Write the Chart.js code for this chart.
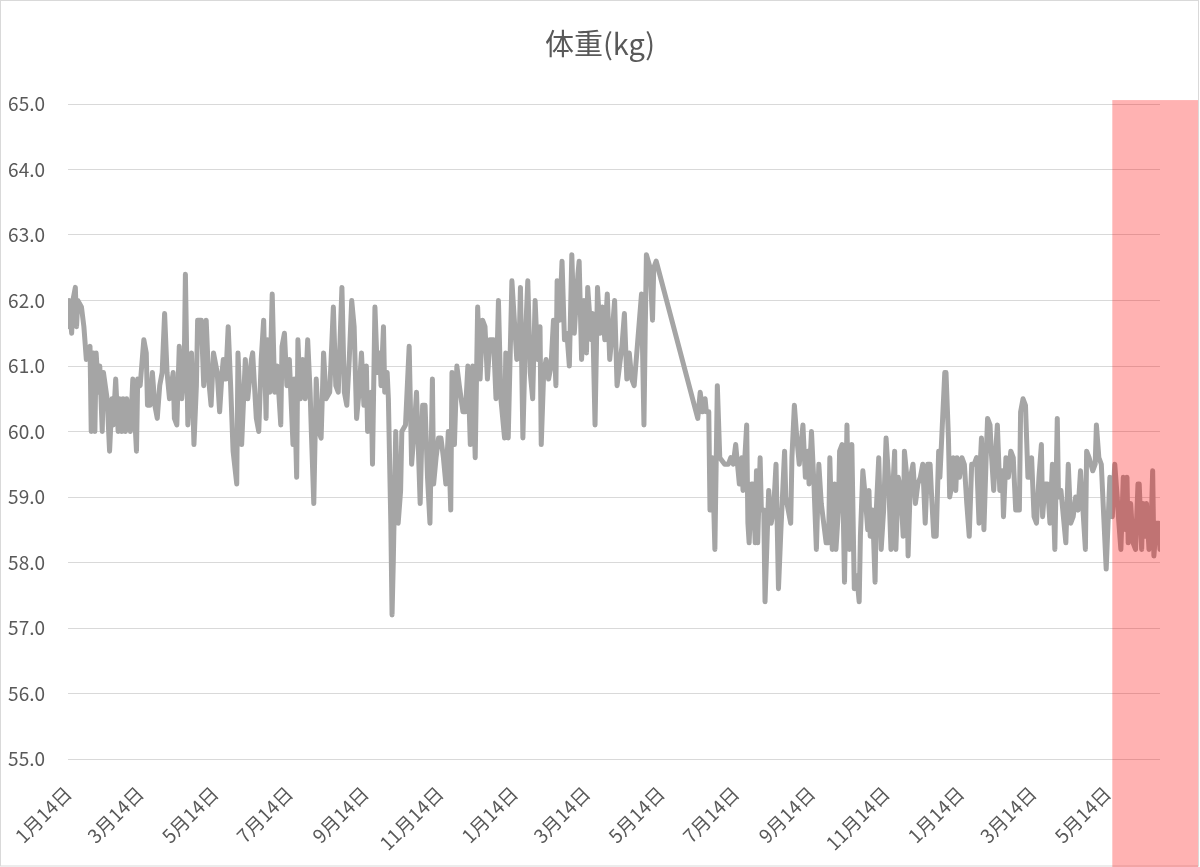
<!DOCTYPE html>
<html lang="ja">
<head>
<meta charset="utf-8">
<title>体重(kg)</title>
<script src="https://cdn.jsdelivr.net/npm/chart.js@4.4.1/dist/chart.umd.min.js"></script>
<style>
  html, body { margin: 0; padding: 0; background: #fff; }
  #wrap { position: relative; width: 1200px; height: 867px; }
</style>
</head>
<body>
<div id="wrap"><canvas id="weight"></canvas></div>
<script>
// days since the first measurement (1月14日)
var DAY_OFFSETS = [
  0, 1, 3, 4, 6, 7, 8, 11, 13, 15, 18, 19, 21, 22, 23, 25, 26, 28, 29, 32,
  34, 36, 37, 39, 41, 42, 44, 45, 47, 48, 51, 53, 56, 57, 59, 62, 64, 65, 67, 69,
  71, 73, 75, 77, 79, 81, 83, 86, 87, 89, 91, 93, 95, 96, 98, 101, 103, 105, 106, 109,
  111, 113, 115, 117, 119, 122, 124, 126, 127, 129, 131, 133, 135, 138, 139,
  142, 145, 147, 150, 151, 154, 156, 158, 160, 162, 163, 165, 167, 169, 171, 174, 175, 177, 179, 181,
  184, 185, 187, 188, 190, 192, 194, 196, 198, 199, 201, 203, 205, 207, 209, 211, 214, 217, 219, 221,
  224, 226, 228, 230, 232, 234, 236, 238, 240, 242, 244, 245, 248, 249, 251, 253, 255, 256, 258, 259,
  261, 262, 264, 265, 266, 268, 270, 272, 273, 276, 279, 281, 283, 285, 288, 290, 292, 294, 296, 298,
  299, 301, 303, 305, 307, 309, 311, 313, 314, 316, 318, 320, 323, 325, 327, 329, 331, 333, 335, 337,
  339, 341, 343, 345, 348, 350, 352, 354, 357, 358, 360, 363, 365, 367, 369, 370, 372, 374, 376, 378,
  380, 382, 384, 386, 387, 389, 391, 393, 395, 397, 399, 400, 402, 404, 406, 408, 410, 412, 414, 417,
  418, 420, 422, 424, 425, 428, 429, 431, 433, 435, 437, 439, 441, 443, 445, 447, 449, 451, 453, 455,
  457, 459, 461, 463, 466, 469, 471, 472, 473, 476, 478, 479, 481,
  515, 517, 519, 521, 522, 524, 525, 527, 529, 531, 533, 537, 540, 542, 544, 546, 548, 549, 551, 552,
  555, 556, 557, 559, 560, 562, 563, 564, 566, 567, 569, 570, 573, 575, 577, 579, 581, 583, 586, 587,
  591, 592, 594, 596, 598, 601, 603, 605, 606, 608, 610, 612, 614, 616, 618, 620, 622, 623, 625, 627,
  628, 630, 631, 633, 635, 637, 639, 641, 642, 643, 645, 647, 648, 650, 652, 654, 655, 656, 658, 660,
  661, 663, 665, 667, 669, 671, 673, 675, 676, 677, 679, 681, 683, 684, 686, 687, 689, 691, 693, 695,
  697, 699, 701, 703, 705, 706, 708, 710, 712, 713, 715, 717, 718, 720, 721, 723, 724, 726, 727, 729,
  731, 733, 735, 737, 739, 741, 743, 745, 746, 747, 749, 751, 752, 754, 755, 757, 759, 760, 762, 764,
  765, 767, 769, 771, 773, 775, 778, 779, 781, 783, 785, 787, 788, 790, 792, 794, 796, 797, 799, 801,
  803, 805, 807, 809, 810, 812, 814, 816, 818, 820, 822, 824, 826, 828, 830, 832, 833, 835, 838, 840,
  841, 843, 845, 847, 848, 849, 852, 854, 856, 858, 859, 861, 863, 865, 866, 867, 869, 871, 873, 875,
  876, 878, 879, 881, 882, 884, 886, 887, 888, 890, 892, 893
];

var WEIGHT_KG = [
  61.6, 62.0, 61.5, 62.0, 62.2, 61.6, 62.0, 61.9, 61.6, 61.1, 61.3, 60.0, 61.2, 60.0, 61.2, 60.6, 61.0, 60.0, 60.9, 60.5,
  59.7, 60.5, 60.1, 60.8, 60.0, 60.5, 60.0, 60.5, 60.0, 60.5, 60.0, 60.8, 59.7, 60.8, 60.7, 61.4, 61.2, 60.4, 60.4, 60.9,
  60.4, 60.2, 60.7, 60.9, 61.8, 60.9, 60.5, 60.9, 60.2, 60.1, 61.3, 60.5, 60.9, 62.4, 60.1, 61.2, 59.8, 60.7, 61.7, 61.7,
  60.7, 61.7, 60.8, 60.4, 61.2, 60.9, 60.3, 60.9, 61.1, 60.8, 61.6, 60.7, 59.7, 59.2, 61.2,
  59.8, 61.1, 60.5, 61.1, 61.2, 60.2, 60.0, 61.1, 61.7, 60.2, 61.4, 60.6, 62.1, 60.6, 61.0, 60.1, 61.3, 61.5, 60.7, 61.1,
  59.8, 60.8, 59.3, 61.4, 60.5, 61.1, 60.5, 61.4, 60.6, 60.0, 58.9, 60.8, 60.0, 59.9, 61.2, 60.5, 60.6, 61.9, 60.7, 60.6,
  62.2, 60.6, 60.4, 61.1, 62.0, 61.6, 60.2, 60.6, 61.2, 60.4, 61.0, 60.0, 60.6, 59.5, 61.9, 60.9, 61.2, 60.7, 61.6, 60.6,
  60.9, 60.5, 58.6, 57.2, 58.0, 60.0, 58.6, 59.1, 60.0, 60.1, 61.3, 59.5, 60.0, 60.6, 58.9, 60.4, 60.4, 59.3, 58.6, 60.8,
  59.2, 59.6, 59.9, 59.9, 59.6, 59.2, 60.0, 58.8, 60.9, 59.8, 61.0, 60.7, 60.3, 60.3, 61.0, 59.8, 61.0, 59.6, 61.9, 60.8,
  61.7, 61.6, 60.8, 61.4, 61.4, 60.5, 62.0, 60.5, 59.9, 61.2, 59.9, 62.3, 61.7, 61.1, 61.4, 62.2, 59.9, 61.4, 62.3, 60.9,
  60.5, 62.0, 61.1, 61.6, 59.8, 60.9, 61.1, 60.8, 61.0, 61.7, 60.7, 62.3, 61.7, 62.6, 61.4, 61.5, 61.0, 62.7, 61.5, 62.4,
  62.6, 61.1, 62.0, 61.2, 62.2, 61.4, 61.8, 60.1, 62.2, 61.5, 61.9, 61.4, 62.1, 61.1, 61.5, 62.0, 60.7, 61.0, 61.3, 61.8,
  60.8, 61.2, 60.8, 60.7, 61.4, 62.1, 60.1, 61.5, 62.7, 62.5, 61.7, 62.5, 62.6,
  60.2, 60.6, 60.3, 60.5, 60.3, 60.3, 58.8, 59.6, 58.2, 60.7, 59.6, 59.5, 59.5, 59.6, 59.5, 59.8, 59.4, 59.2, 59.6, 59.1,
  60.1, 58.6, 58.3, 59.2, 59.2, 58.3, 59.4, 58.3, 59.6, 58.8, 58.8, 57.4, 59.1, 58.6, 58.8, 59.5, 57.6, 58.5, 59.7, 59.0,
  58.6, 59.6, 60.4, 59.9, 59.5, 60.1, 59.3, 59.7, 59.2, 60.0, 59.2, 58.2, 59.5, 58.9, 58.6, 58.3, 58.3, 59.6, 58.2, 59.2,
  58.2, 58.8, 59.7, 59.8, 57.7, 60.1, 58.2, 59.8, 58.7, 57.6, 57.8, 57.4, 58.4, 59.4, 59.0, 58.5, 59.1, 58.4, 58.8, 57.7,
  58.8, 59.6, 58.2, 58.8, 59.9, 59.3, 58.2, 59.3, 59.7, 58.2, 59.3, 59.1, 58.4, 59.7, 59.3, 58.1, 59.3, 59.5, 58.9, 59.2,
  59.3, 59.5, 58.6, 59.5, 59.5, 59.1, 58.4, 58.4, 59.7, 59.3, 60.1, 60.9, 60.9, 59.9, 59.0, 59.2, 59.6, 59.1, 59.6, 59.3,
  59.6, 59.5, 58.9, 58.4, 59.5, 59.5, 59.6, 58.6, 59.5, 59.9, 58.5, 59.7, 60.2, 60.1, 59.7, 59.1, 59.8, 60.1, 59.1, 59.4,
  58.7, 59.6, 59.3, 59.7, 59.6, 58.8, 58.8, 60.3, 60.5, 60.4, 59.3, 59.3, 59.6, 58.7, 58.6, 59.3, 59.8, 58.7, 59.2, 59.2,
  58.6, 59.5, 58.2, 60.2, 59.0, 59.1, 58.7, 58.3, 59.5, 58.6, 58.7, 59.0, 58.8, 59.4, 58.8, 58.2, 59.7, 59.6, 59.4, 59.5,
  60.1, 59.6, 59.5, 58.7, 58.3, 57.9, 59.3, 58.7, 59.5, 59.0, 58.7, 58.2, 59.3, 58.5, 59.3, 58.3, 58.9, 58.3, 58.2, 59.2,
  59.2, 58.2, 58.9, 58.4, 58.9, 58.2, 58.7, 59.4, 58.1, 58.6, 58.6, 58.2
];

var TICK_DAYS   = [0, 59, 120, 181, 243, 304, 365, 424, 485, 546, 608, 669, 730, 789, 850];
var TICK_LABELS = ['1月14日', '3月14日', '5月14日', '7月14日', '9月14日', '11月14日', '1月14日', '3月14日',
                   '5月14日', '7月14日', '9月14日', '11月14日', '1月14日', '3月14日', '5月14日'];
var Y_TICKS = [55, 56, 57, 58, 59, 60, 61, 62, 63, 64, 65];

var LAST_DAY = 893;
var HIGHLIGHT_FROM_DAY = 854;   // shaded period on the right
var HIGHLIGHT_TOP_KG = 65.06;

var FONT = "'Noto Sans CJK JP', 'Noto Sans', sans-serif";
var TEXT_COLOR = '#595959';
var GRID_COLOR = '#d9d9d9';

var points = DAY_OFFSETS.map(function (d, i) { return { x: d, y: WEIGHT_KG[i] }; });

var framePlugin = {
  id: 'frame',
  beforeDraw: function (chart) {
    var c = chart.ctx;
    c.save();
    c.fillStyle = '#ffffff';
    c.fillRect(0, 0, chart.width, chart.height);
    c.strokeStyle = GRID_COLOR;
    c.lineWidth = 1;
    c.strokeRect(0.5, 0.5, chart.width - 2, chart.height - 1.5);
    c.restore();
  }
};

var highlightPlugin = {
  id: 'highlight',
  afterDatasetsDraw: function (chart) {
    var c = chart.ctx;
    var x0 = chart.scales.x.getPixelForValue(HIGHLIGHT_FROM_DAY);
    var y0 = chart.scales.y.getPixelForValue(HIGHLIGHT_TOP_KG);
    c.save();
    c.fillStyle = 'rgba(255, 0, 0, 0.3)';
    c.fillRect(x0, y0, chart.width - 2 - x0, chart.height - y0);
    c.restore();
  }
};

new Chart(document.getElementById('weight'), {
  type: 'line',
  data: {
    datasets: [{
      label: '体重(kg)',
      data: points,
      borderColor: '#a5a5a5',
      borderWidth: 5,
      borderJoinStyle: 'round',
      borderCapStyle: 'round',
      pointRadius: 0,
      tension: 0,
      fill: false
    }]
  },
  options: {
    responsive: true,
    maintainAspectRatio: false,
    animation: false,
    layout: { padding: 0 },
    plugins: {
      legend: { display: false },
      tooltip: { enabled: false },
      title: {
        display: true,
        text: '体重(kg)',
        color: TEXT_COLOR,
        font: { family: FONT, size: 29, weight: 'normal' },
        padding: { top: 27, bottom: 42.2 }
      }
    },
    scales: {
      x: {
        type: 'linear',
        min: 0,
        max: LAST_DAY,
        grid: { display: false },
        border: { display: false },
        afterBuildTicks: function (axis) {
          axis.ticks = TICK_DAYS.map(function (d) { return { value: d }; });
        },
        afterFit: function (axis) {
          axis.height = 108;
          // rotated labels fit inside the left axis gutter
          axis.paddingLeft = 0;
          axis.paddingRight = 0;
        },
        ticks: {
          autoSkip: false,
          minRotation: 45,
          maxRotation: 45,
          padding: 15,
          color: TEXT_COLOR,
          font: { family: FONT, size: 19 },
          callback: function (value, index) { return TICK_LABELS[index]; }
        }
      },
      y: {
        min: 55,
        max: 65,
        grid: { color: GRID_COLOR, lineWidth: 1, drawTicks: false },
        border: { display: false },
        afterBuildTicks: function (axis) {
          axis.ticks = Y_TICKS.map(function (v) { return { value: v }; });
        },
        afterFit: function (axis) { axis.width = 68; },
        ticks: {
          padding: 23,
          color: TEXT_COLOR,
          font: { family: FONT, size: 19 },
          callback: function (value) { return value.toFixed(1); }
        }
      },
      // empty right-hand axis that only reserves the margin to the right of the plot
      yRight: {
        position: 'right',
        min: 55,
        max: 65,
        display: true,
        grid: { display: false },
        border: { display: false },
        ticks: { display: false },
        afterFit: function (axis) { axis.width = 40; }
      }
    }
  },
  plugins: [framePlugin, highlightPlugin]
});
</script>
</body>
</html>
